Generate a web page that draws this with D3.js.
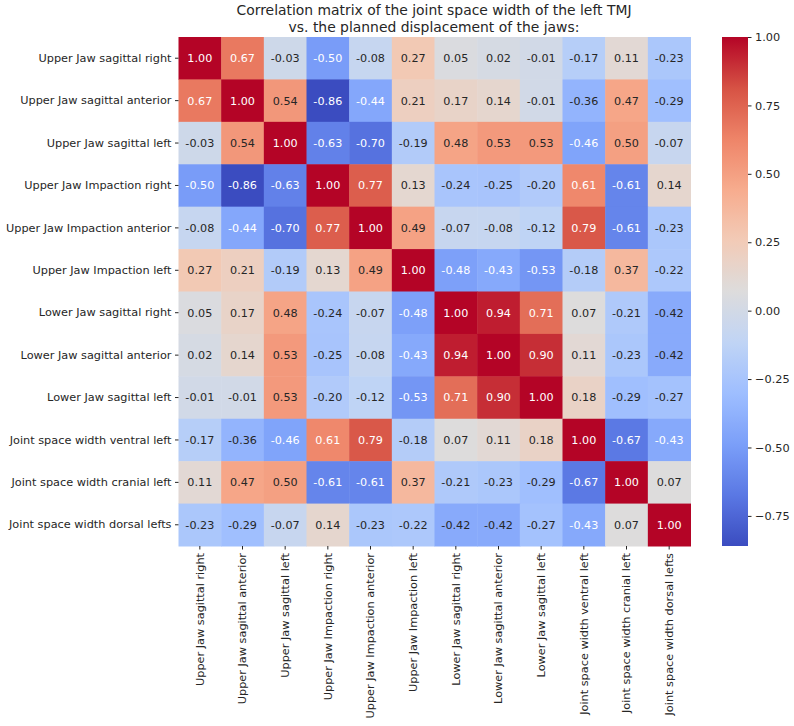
<!DOCTYPE html>
<html><head><meta charset="utf-8">
<script src="https://cdn.jsdelivr.net/npm/d3@7"></script>
<style>body{margin:0;background:#fff}text{font-family:"DejaVu Sans",sans-serif}</style>
</head><body><svg id="c" width="794" height="726"></svg>
<script>
const labels = ["Upper Jaw sagittal right","Upper Jaw sagittal anterior","Upper Jaw sagittal left","Upper Jaw Impaction right","Upper Jaw Impaction anterior","Upper Jaw Impaction left","Lower Jaw sagittal right","Lower Jaw sagittal anterior","Lower Jaw sagittal left","Joint space width ventral left","Joint space width cranial left","Joint space width dorsal lefts"];
const corr = [
[1.00,0.67,-0.03,-0.50,-0.08,0.27,0.05,0.02,-0.01,-0.17,0.11,-0.23],
[0.67,1.00,0.54,-0.86,-0.44,0.21,0.17,0.14,-0.01,-0.36,0.47,-0.29],
[-0.03,0.54,1.00,-0.63,-0.70,-0.19,0.48,0.53,0.53,-0.46,0.50,-0.07],
[-0.50,-0.86,-0.63,1.00,0.77,0.13,-0.24,-0.25,-0.20,0.61,-0.61,0.14],
[-0.08,-0.44,-0.70,0.77,1.00,0.49,-0.07,-0.08,-0.12,0.79,-0.61,-0.23],
[0.27,0.21,-0.19,0.13,0.49,1.00,-0.48,-0.43,-0.53,-0.18,0.37,-0.22],
[0.05,0.17,0.48,-0.24,-0.07,-0.48,1.00,0.94,0.71,0.07,-0.21,-0.42],
[0.02,0.14,0.53,-0.25,-0.08,-0.43,0.94,1.00,0.90,0.11,-0.23,-0.42],
[-0.01,-0.01,0.53,-0.20,-0.12,-0.53,0.71,0.90,1.00,0.18,-0.29,-0.27],
[-0.17,-0.36,-0.46,0.61,0.79,-0.18,0.07,0.11,0.18,1.00,-0.67,-0.43],
[0.11,0.47,0.50,-0.61,-0.61,0.37,-0.21,-0.23,-0.29,-0.67,1.00,0.07],
[-0.23,-0.29,-0.07,0.14,-0.23,-0.22,-0.42,-0.42,-0.27,-0.43,0.07,1.00]
];
const cbTicks = [1.00,0.75,0.50,0.25,0.00,-0.25,-0.50,-0.75];
const titleLines = ["Correlation matrix of the joint space width of the left TMJ","vs. the planned displacement of the jaws:"];
const coolwarmStops = ["#3b4cc0","#5a78e4","#7b9ff9","#9ebeff","#c0d4f5","#dddcdc","#f2cbb7","#f7ac8e","#ee8468","#d65244","#b40426"];

const svg = d3.select("#c");
const L=178.5, T=37, W=512, H=509;
const x = d3.scaleBand().domain(d3.range(labels.length)).range([L,L+W]);
const y = d3.scaleBand().domain(d3.range(labels.length)).range([T,T+H]);
const vmin = d3.min(corr.flat()), vmax = d3.max(corr.flat());
const cmap = d3.scaleLinear().domain(d3.range(coolwarmStops.length).map(i=>i/(coolwarmStops.length-1))).range(coolwarmStops).interpolate(d3.interpolateRgb).clamp(true);
const norm = d3.scaleLinear().domain([vmin,vmax]).range([0,1]);
const color = v=>cmap(norm(v));
function lum(c){const r=d3.rgb(c);const f=u=>{u/=255;return u<=0.03928?u/12.92:Math.pow((u+0.055)/1.055,2.4)};return 0.2126*f(r.r)+0.7152*f(r.g)+0.0722*f(r.b);}

const cells=[];corr.forEach((row,i)=>row.forEach((v,j)=>cells.push({i,j,v})));
svg.append("g").selectAll("rect").data(cells).join("rect")
 .attr("x",d=>x(d.j)).attr("y",d=>y(d.i)).attr("width",x.bandwidth()+0.5).attr("height",y.bandwidth()+0.5)
 .attr("fill",d=>color(d.v));
svg.append("g").selectAll("text").data(cells).join("text")
 .attr("x",d=>x(d.j)+x.bandwidth()/2).attr("y",d=>y(d.i)+y.bandwidth()/2)
 .attr("text-anchor","middle").attr("dy","0.35em").attr("font-size",11.2)
 .attr("fill",d=>lum(color(d.v))>0.408?"#262626":"#ffffff")
 .text(d=>d.v.toFixed(2));

const fs=11.3;
const ya = svg.append("g").attr("transform",`translate(${L},0)`)
 .call(d3.axisLeft(y).tickSize(3.5).tickPadding(3.5).tickFormat(i=>labels[i]));
ya.select(".domain").remove();
ya.selectAll("text").attr("font-size",fs).attr("fill","#262626").style("font-family","DejaVu Sans");
ya.selectAll("line").attr("stroke","#262626");
const xa = svg.append("g").attr("transform",`translate(0,${T+H})`)
 .call(d3.axisBottom(x).tickSize(3.5).tickPadding(3.5).tickFormat(i=>labels[i]));
xa.select(".domain").remove();
xa.selectAll("line").attr("stroke","#262626");
xa.selectAll("text").attr("font-size",fs).attr("fill","#262626").style("font-family","DejaVu Sans")
 .attr("transform","rotate(-90)").attr("text-anchor","end").attr("x",-7).attr("y",0).attr("dy","0.35em");

// colorbar
const cbX=722, cbW=26;
const cy = d3.scaleLinear().domain([vmin,vmax]).range([T+H,T]);
const defs=svg.append("defs");
const grad=defs.append("linearGradient").attr("id","cbg").attr("x1",0).attr("y1",1).attr("x2",0).attr("y2",0);
d3.range(0,1.0001,0.02).forEach(t=>grad.append("stop").attr("offset",t).attr("stop-color",cmap(t)));
svg.append("rect").attr("x",cbX).attr("y",T).attr("width",cbW).attr("height",H).attr("fill","url(#cbg)");
const ca = svg.append("g").attr("transform",`translate(${cbX+cbW},0)`)
 .call(d3.axisRight(cy).tickValues(cbTicks).tickSize(3.5).tickPadding(3.5).tickFormat(v=>d3.format(".2f")(v).replace("-","\u2212")));
ca.select(".domain").remove();
ca.selectAll("line").attr("stroke","#262626");
ca.selectAll("text").attr("font-size",fs).attr("fill","#262626").style("font-family","DejaVu Sans");

svg.append("g").selectAll("text").data(titleLines).join("text")
 .attr("x",434).attr("y",(d,i)=>15+i*17).attr("text-anchor","middle").attr("font-size",13.9).attr("fill","#262626")
 .text(d=>d);
</script></body></html>
